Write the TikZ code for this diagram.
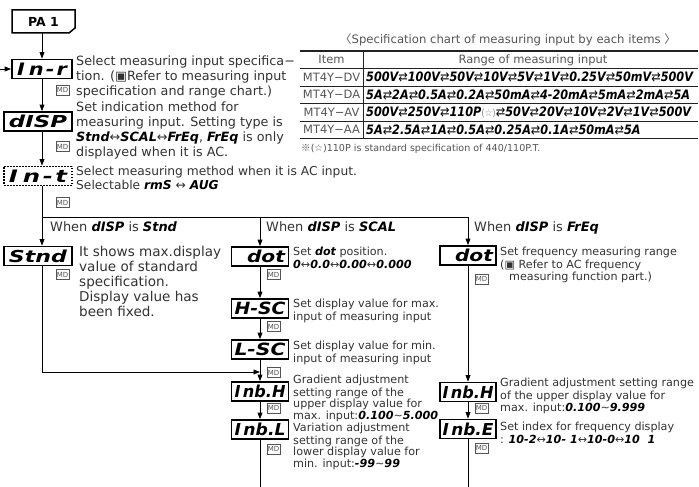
\documentclass[tikz,border=0pt]{standalone}
\usepackage{fontspec}
\usepackage{graphicx}
\setmainfont{DejaVu Sans}
\newfontfamily\segf{DejaVu Sans}
\newfontfamily\segc{DejaVu Sans}[FakeStretch=0.87]
\newfontfamily\cjkf{Noto Sans CJK SC}
\usetikzlibrary{arrows.meta}
\definecolor{txt}{HTML}{333333}
\definecolor{tgray}{HTML}{555555}
\definecolor{lgray}{HTML}{8A8A8A}
\definecolor{tline}{HTML}{222222}
\newcommand\sgt[1]{{\segf\bfseries\itshape\color{black}#1}}
\newcommand\sgc[1]{{\segc\bfseries\itshape\color{black}#1}}
\newcommand\dsp[2]{\resizebox{#1}{12.5bp}{\segf\bfseries\itshape #2}}
\newcommand\rlarr{{\mdseries\upshape ⇄}}
\newcommand\lrarr{{\mdseries\upshape\color{txt}↔}}
\begin{document}
\begin{tikzpicture}[x=1bp,y=-1bp,
  conn/.style={line width=0.9bp, black},
  arr/.style={conn, -{Triangle[length=6.5bp,width=4.8bp]}},
  dispbox/.style={draw, line width=1.7bp, inner sep=0pt, minimum height=19bp},
  lbox/.style={dispbox, minimum width=68bp},
  mbox/.style={dispbox, minimum width=57bp},
  mdbox/.style={draw=tgray, line width=0.7bp, inner sep=0pt, minimum width=13bp, minimum height=10bp, font=\fontsize{7}{7}\selectfont, text=tgray},
  big/.style={font=\fontsize{12.8}{15}\selectfont, text=txt, align=left, inner sep=0pt, anchor=north west},
  sml/.style={font=\fontsize{11.2}{11.7}\selectfont, text=txt, align=left, inner sep=0pt, anchor=north west},
  tabtxt/.style={font=\fontsize{11.5}{11.5}\selectfont, text=tgray, inner sep=0pt, text height=9.5bp, text depth=2bp},
  rngtxt/.style={font=\fontsize{13}{13}\selectfont, anchor=base west, inner sep=0pt},
  tabline/.style={draw=tline}
]
\fill[white] (0,0) rectangle (699,487);
\useasboundingbox (0,0) rectangle (699,487);

% ---------- PA 1 ----------
\node[font=\fontsize{12.5}{12.5}\selectfont\bfseries, minimum width=63bp, minimum height=23bp, inner sep=0pt] (pa) at (43.5,21.5) {PA 1};
\draw[line width=1.5bp, line join=miter] (12,10) -- (75,10) -- (75,28) -- (69,33) -- (12,33) -- cycle;

% ---------- left column boxes ----------
\node[lbox, minimum width=60bp] (inr) at (42,69) {\dsp{50bp}{I\kern.2em n\kern.1em-\kern.1em r}};
\node[lbox] (disp) at (38,121.5) {\dsp{58bp}{dISP}};
\node[lbox, dash pattern=on 1.6bp off 1.4bp] (int) at (38,176) {\dsp{58bp}{I\kern.2em n\kern.1em-\kern.1em t}};
\node[lbox] (stnd) at (38,256) {\dsp{58bp}{Stnd}};

% ---------- middle column boxes ----------
\node[mbox] (dot) at (260,256.5) {\hspace*{12bp}\dsp{38bp}{dot}};
\node[mbox] (hsc) at (260,308.5) {\dsp{51bp}{H-SC}};
\node[mbox] (lsc) at (260,349.5) {\dsp{51bp}{L-SC}};
\node[mbox] (inbh) at (260,391.5) {\dsp{51bp}{I\kern.15em nb.H}};
\node[mbox] (inbl) at (260,429.5) {\dsp{51bp}{I\kern.15em nb.L}};

% ---------- right column boxes ----------
\node[mbox, minimum width=56bp] (rdot) at (468,255.5) {\hspace*{12bp}\dsp{38bp}{dot}};
\node[mbox, minimum width=56bp] (rinbh) at (468,392) {\dsp{51bp}{I\kern.15em nb.H}};
\node[mbox, minimum width=56bp] (rinbe) at (468,429) {\dsp{51bp}{I\kern.15em nb.E}};

% ---------- MD keys ----------
\node[mdbox] (md1) at (62.5,90) {MD};
\node[mdbox] (md2) at (62.5,146.5) {MD};
\node[mdbox] (md3) at (62.5,202.5) {MD};
\node[mdbox] (md4) at (62.5,274.5) {MD};
\node[mdbox] (md5) at (273.5,274.5) {MD};
\node[mdbox] (md6) at (273.5,326.5) {MD};
\node[mdbox] (md7) at (273.5,372.5) {MD};
\node[mdbox] (md8) at (273.5,408) {MD};
\node[mdbox] (md9) at (273.5,449) {MD};
\node[mdbox] (md10) at (481.5,279) {MD};
\node[mdbox] (md11) at (481.5,408) {MD};
\node[mdbox] (md12) at (481.5,448) {MD};

% ---------- coordinates ----------
\coordinate (inin) at (0,69);
\coordinate (hl) at (42,217);
\coordinate (hr) at (468,217);
\coordinate (ljoin) at (42,372);
\coordinate (bot) at (0,487);

% ---------- connectors ----------
\draw[arr] (inr.north |- pa.south) -- (inr.north);
\draw[arr] (inin) -- (inr.west);
\draw[arr] (inr.south) -- (inr.south |- disp.north);
\draw[arr] (inr.south |- disp.south) -- (inr.south |- int.north);
\draw[conn] (inr.south |- int.south) -- (hl) -- (hr);
\draw[arr] (hl) -- (inr.south |- stnd.north);
\draw[arr] (dot.north |- hl) -- (dot.north);
\draw[arr] (hr) -- (rdot.north);
\draw[arr] (inr.south |- stnd.south) -- (ljoin) -- (ljoin -| dot.south);
\draw[arr] (dot.south) -- (hsc.north);
\draw[arr] (hsc.south) -- (lsc.north);
\draw[arr] (lsc.south) -- (inbh.north);
\draw[arr] (inbh.south) -- (inbl.north);
\draw[conn] (inbl.south) -- (inbl.south |- bot);
\draw[arr] (rdot.south) -- (rinbh.north);
\draw[arr] (rinbh.south) -- (rinbe.north);
\draw[conn] (rinbe.south) -- (rinbe.south |- bot);

% ---------- descriptions ----------
\node[big] (tinr) at (76,55) {\strut Select measuring input specifica−\\tion. (▣Refer to measuring input\\specification and range chart.)};
\node[big] (tdisp) at (76,101) {\strut Set indication method for\\measuring input. Setting type is\\\sgt{Stnd}\lrarr\sgt{SCAL}\lrarr\sgt{FrEq}, \sgt{FrEq} is only\\displayed when it is AC.};
\node[big, font=\fontsize{12.3}{12.8}\selectfont] (tint) at (76,165.5) {\strut Select measuring method when it is AC input.\\Selectable \sgt{rmS} \lrarr{} \sgt{AUG}};
\node[big, font=\fontsize{13}{15}\selectfont] (lab1) at (50,221) {\strut When \sgt{dISP} is \sgt{Stnd}};
\node[big, font=\fontsize{13}{15}\selectfont] (lab2) at (266,221) {\strut When \sgt{dISP} is \sgt{SCAL}};
\node[big, font=\fontsize{13}{15}\selectfont] (lab3) at (474,221) {\strut When \sgt{dISP} is \sgt{FrEq}};
\node[big, font=\fontsize{13.6}{15}\selectfont] (tstnd) at (79,246) {\strut It shows max.display\\value of standard\\specification.\\Display value has\\been fixed.};

\node[sml] (tdot) at (293,246.9) {\strut Set \sgt{dot} position.\\\sgt{0}\lrarr\sgt{0.0}\lrarr\sgt{0.00}\lrarr\sgt{0.000}};
\node[sml] (thsc) at (293,298.9) {\strut Set display value for max.\\input of measuring input};
\node[sml] (tlsc) at (293,340.9) {\strut Set display value for min.\\input of measuring input};
\node[sml] (tinbh) at (293,374.4) {\strut Gradient adjustment\\setting range of the\\upper display value for\\max. input:\sgt{0.100}\textasciitilde\sgt{5.000}};
\node[sml] (tinbl) at (293,422.4) {\strut Variation adjustment\\setting range of the\\lower display value for\\min. input:\sgt{-99}\textasciitilde\sgt{99}};

\node[sml] (trdot) at (500,246.9) {\strut Set frequency measuring range\\(▣ Refer to AC frequency\\\hspace*{9bp}measuring function part.)};
\node[sml] (trinbh) at (500,377.9) {\strut Gradient adjustment setting range\\of the upper display value for\\max. input:\sgt{0.100}\textasciitilde\sgt{9.999}};
\node[sml] (trinbe) at (500,421.9) {\strut Set index for frequency display\\: \sgt{10-2}\lrarr\sgt{10- 1}\lrarr\sgt{10-0}\lrarr\sgt{10\ \ 1}};

% ---------- specification chart ----------
\node[font=\fontsize{11.7}{11.7}\selectfont, text=tgray, inner sep=0pt] (cap) at (508,40) {{\cjkf 〈}Specification chart of measuring input by each items {\cjkf 〉}};
\draw[tabline, line width=1.4bp] (300,51) -- (698,51);
\foreach \yy in {68.5,86,103.5,121} \draw[tabline, line width=0.8bp] (300,\yy) -- (698,\yy);
\draw[tabline, line width=1.4bp] (300,138.5) -- (698,138.5);
\draw[tabline, line width=1bp] (363,51) -- (363,138.5);
\node[tabtxt] (hitem) at (331.5,60) {Item};
\node[tabtxt] (hrange) at (533,60) {Range of measuring input};
\node[tabtxt] (rdv) at (331.5,77.3) {MT4Y−DV};
\node[tabtxt] (rda) at (331.5,94.8) {MT4Y−DA};
\node[tabtxt] (rav) at (331.5,112.3) {MT4Y−AV};
\node[tabtxt] (raa) at (331.5,129.8) {MT4Y−AA};
\node[rngtxt] (gdv) at (366,82) {\sgc{500V\rlarr100V\rlarr50V\rlarr10V\rlarr5V\rlarr1V\rlarr0.25V\rlarr50mV\rlarr500V}};
\node[rngtxt] (gda) at (366,99.5) {\sgc{5A\rlarr2A\rlarr0.5A\rlarr0.2A\rlarr50mA\rlarr4-20mA\rlarr5mA\rlarr2mA\rlarr5A}};
\node[rngtxt] (gav) at (366,117) {\sgc{500V\rlarr250V\rlarr110P{\mdseries\upshape\fontsize{10}{10}\selectfont\color{lgray}(☆)}\rlarr50V\rlarr20V\rlarr10V\rlarr2V\rlarr1V\rlarr500V}};
\node[rngtxt] (gaa) at (366,134.5) {\sgc{5A\rlarr2.5A\rlarr1A\rlarr0.5A\rlarr0.25A\rlarr0.1A\rlarr50mA\rlarr5A}};
\node[anchor=base west, font=\fontsize{9.6}{9.6}\selectfont, text=tgray, inner sep=0pt] (foot) at (301,151.5) {{\cjkf ※}(☆)110P is standard specification of 440/110P.T.};
\end{tikzpicture}
\end{document}
